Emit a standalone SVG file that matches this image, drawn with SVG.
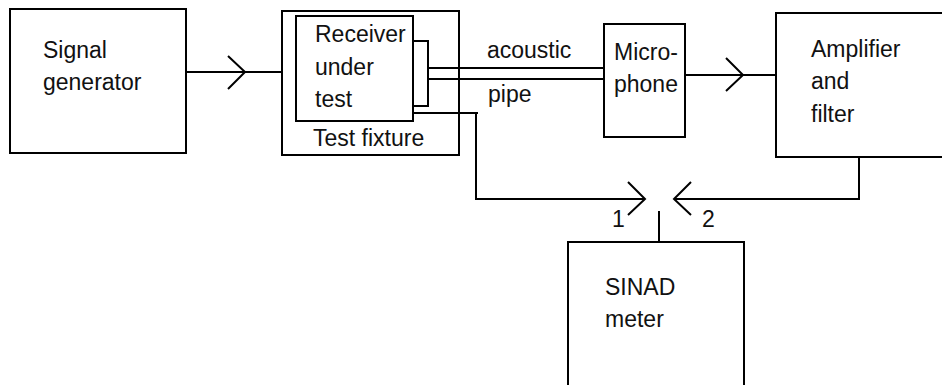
<svg xmlns="http://www.w3.org/2000/svg" width="942" height="385" viewBox="0 0 942 385">
<style>
.b{fill:none;stroke:#000;stroke-width:2}
.l{fill:none;stroke:#000;stroke-width:2;stroke-linejoin:miter}
text{font-family:"Liberation Sans",Arial,sans-serif;font-size:23px;fill:#111}
</style>
<rect width="942" height="385" fill="#fff"/>
<g id="signal-generator">
<rect class="b" x="10" y="9" width="176" height="144"/>
<text x="43" y="58">Signal</text>
<text x="43" y="90">generator</text>
</g>
<g id="test-fixture">
<rect class="b" x="282" y="11" width="177" height="144"/>
<text x="313" y="146">Test fixture</text>
</g>
<g id="receiver">
<rect class="b" x="296" y="16" width="117" height="105"/>
<text x="315" y="42">Receiver</text>
<text x="315" y="75">under</text>
<text x="315" y="107">test</text>
</g>
<g id="microphone">
<rect class="b" x="604" y="24" width="81" height="113"/>
<text x="614" y="60">Micro-</text>
<text x="614" y="92">phone</text>
</g>
<g id="amplifier">
<path class="b" d="M943,13 H776 V157 H943"/>
<text x="811" y="57">Amplifier</text>
<text x="811" y="89">and</text>
<text x="811" y="122">filter</text>
</g>
<g id="sinad-meter">
<path class="b" d="M568,386 V242 H744 V386"/>
<text x="605" y="295">SINAD</text>
<text x="605" y="327">meter</text>
</g>
<g id="connectors">
<path class="l" d="M186,72 H282"/>
<path class="l" d="M228,56 L245,72 L228,89"/>
<path class="l" d="M413,41 H428 V106 H413"/>
<path class="l" d="M428,68 H604"/>
<path class="l" d="M428,79 H604"/>
<path class="l" d="M413,113 H478"/>
<path class="l" d="M476,113 V199 H645"/>
<path class="l" d="M628,182 L645,199 L628,215"/>
<path class="l" d="M691,182 L674,199 L691,215"/>
<path class="l" d="M674,199 H859 V157"/>
<path class="l" d="M685,75 H776"/>
<path class="l" d="M726,58 L743,75 L726,91"/>
<path class="l" d="M659,211 V242"/>
<text x="612" y="227">1</text>
<text x="702" y="227">2</text>
<text x="487" y="58">acoustic</text>
<text x="488" y="102">pipe</text>
</g>
</svg>
